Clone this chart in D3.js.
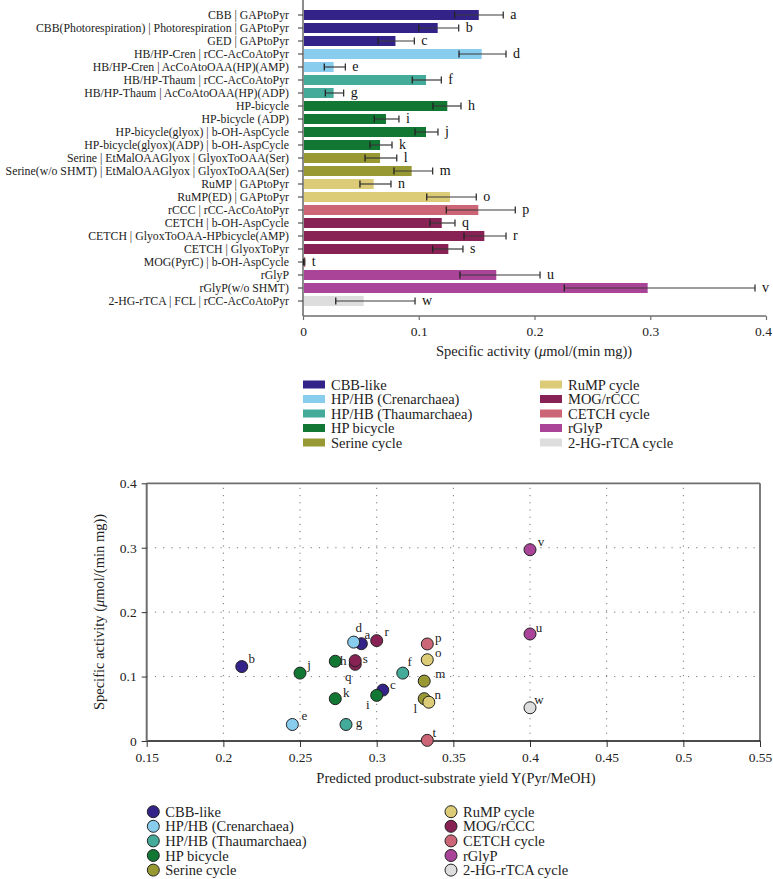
<!DOCTYPE html>
<html><head><meta charset="utf-8">
<script src="https://cdn.jsdelivr.net/npm/d3@7"></script>
<style>
html,body{margin:0;padding:0;background:#fff;}
svg{display:block;font-family:"Liberation Serif","DejaVu Serif",serif;}
</style></head>
<body><svg id="c" width="773" height="879"></svg>
<script>
const categories = [
  "CBB | GAPtoPyr",
  "CBB(Photorespiration) | Photorespiration | GAPtoPyr",
  "GED | GAPtoPyr",
  "HB/HP-Cren | rCC-AcCoAtoPyr",
  "HB/HP-Cren | AcCoAtoOAA(HP)(AMP)",
  "HB/HP-Thaum | rCC-AcCoAtoPyr",
  "HB/HP-Thaum | AcCoAtoOAA(HP)(ADP)",
  "HP-bicycle",
  "HP-bicycle (ADP)",
  "HP-bicycle(glyox) | b-OH-AspCycle",
  "HP-bicycle(glyox)(ADP) | b-OH-AspCycle",
  "Serine | EtMalOAAGlyox | GlyoxToOAA(Ser)",
  "Serine(w/o SHMT) | EtMalOAAGlyox | GlyoxToOAA(Ser)",
  "RuMP | GAPtoPyr",
  "RuMP(ED) | GAPtoPyr",
  "rCCC | rCC-AcCoAtoPyr",
  "CETCH | b-OH-AspCycle",
  "CETCH | GlyoxToOAA-HPbicycle(AMP)",
  "CETCH | GlyoxToPyr",
  "MOG(PyrC) | b-OH-AspCycle",
  "rGlyP",
  "rGlyP(w/o SHMT)",
  "2-HG-rTCA | FCL | rCC-AcCoAtoPyr"
];
const letters = ["a","b","c","d","e","f","g","h","i","j","k","l","m","n","o","p","q","r","s","t","u","v","w"];
const activity = [0.151,0.1155,0.079,0.1535,0.0256,0.1054,0.0256,0.1238,0.0708,0.1054,0.0657,0.0657,0.093,0.0602,0.1261,0.1506,0.119,0.1558,0.1247,0.001,0.1661,0.2969,0.0516];
const errLow  = [0.131,0.100,0.065,0.1348,0.0184,0.0944,0.0193,0.1123,0.0616,0.0968,0.0579,0.0536,0.0786,0.0492,0.1069,0.1238,0.1097,0.1391,0.112,0.0005,0.1356,0.2258,0.0283];
const errHigh = [0.173,0.1345,0.0962,0.1754,0.0366,0.1195,0.0351,0.1365,0.0829,0.1166,0.0769,0.081,0.112,0.076,0.1497,0.1834,0.1313,0.1754,0.1382,0.0015,0.2048,0.3905,0.0968];
const groupIndex = [0,0,0,1,1,2,2,3,3,3,3,4,4,5,5,7,6,6,6,7,8,8,9];
const yieldValues = [0.29,0.212,0.304,0.285,0.245,0.317,0.28,0.273,0.3,0.25,0.273,0.331,0.331,0.334,0.333,0.333,0.286,0.3,0.286,0.333,0.4,0.4,0.4];
const groups = ["CBB-like","HP/HB (Crenarchaea)","HP/HB (Thaumarchaea)","HP bicycle","Serine cycle","RuMP cycle","MOG/rCCC","CETCH cycle","rGlyP","2-HG-rTCA cycle"];
const groupColors = ["#332288","#88ccee","#44aa99","#117733","#999933","#ddcc77","#882255","#cc6677","#aa4499","#dddddd"];
const barTicks = [0,0.1,0.2,0.3,0.4];
const scatterXTicks = [0.15,0.2,0.25,0.3,0.35,0.4,0.45,0.5,0.55];
const scatterYTicks = [0,0.1,0.2,0.3,0.4];
// label placement offsets for scatter point letters (layout only)
const labelOffsets = {a:[6,-9],b:[10,-8],c:[10,-6],d:[5,-15],e:[12,-9],f:[7,-12],g:[13,-2],h:[8,-1],i:[-9,9],j:[9,-9],k:[11,-6],l:[-9,10],m:[16,-8],n:[9,-8],o:[11,-7],p:[11,-7],q:[-7,12],r:[10,-9],s:[10,-2],t:[7,-8],u:[9,-7],v:[11,-8],w:[9,-8]};

const svg = d3.select("#c");
const fmt = d => d===0 ? "0" : String(+d.toFixed(2));
const titleSize = 14.5, legendSize = 14.5;

// ---------- Bar chart ----------
const bx = d3.scaleLinear().domain([0,0.4]).range([303,766]);
const by = d3.scaleBand().domain(categories).range([8.5,307.5]).paddingInner(0.23).paddingOuter(0.115);
const axisGray = "#6e6e6e";
const gBar = svg.append("g");

const xAxisB = gBar.append("g").attr("transform","translate(0,316)")
  .call(d3.axisBottom(bx).tickValues(barTicks).tickFormat(fmt).tickSize(4).tickPadding(6));
xAxisB.select(".domain").attr("stroke",axisGray).attr("stroke-width",1.6).attr("d","M303,0H766");
xAxisB.selectAll(".tick line").attr("stroke",axisGray).attr("stroke-width",1.2);
xAxisB.selectAll(".tick text").attr("font-family","Liberation Serif").attr("font-size",13.5).attr("fill","#222")
  .attr("dx",d=>d===0.4?"-3":null);

const yAxisB = gBar.append("g").attr("transform","translate(303,0)")
  .call(d3.axisLeft(by).tickSize(5).tickPadding(9));
yAxisB.select(".domain").attr("stroke",axisGray).attr("stroke-width",1.6).attr("d","M0,0V316");
yAxisB.selectAll(".tick line").attr("stroke","#333").attr("stroke-width",1);
yAxisB.selectAll(".tick text").attr("font-family","Liberation Serif").attr("font-size",11.8).attr("fill","#222");

gBar.append("g").selectAll("rect").data(categories).join("rect")
  .attr("x",bx(0)+1).attr("y",d=>by(d))
  .attr("width",(d,i)=>Math.max(0,bx(activity[i])-bx(0)))
  .attr("height",by.bandwidth())
  .attr("fill",(d,i)=>groupColors[groupIndex[i]]);

const eb = gBar.append("g").selectAll("g").data(categories).join("g")
  .attr("transform",d=>`translate(0,${by(d)+by.bandwidth()/2})`);
eb.append("line").attr("x1",(d,i)=>bx(errLow[i])).attr("x2",(d,i)=>bx(errHigh[i]))
  .attr("stroke","#3a3a3a").attr("stroke-width",1.2);
eb.append("line").attr("x1",(d,i)=>bx(errLow[i])).attr("x2",(d,i)=>bx(errLow[i]))
  .attr("y1",-3.5).attr("y2",3.5).attr("stroke","#222").attr("stroke-width",1.3);
eb.append("line").attr("x1",(d,i)=>bx(errHigh[i])).attr("x2",(d,i)=>bx(errHigh[i]))
  .attr("y1",-3.5).attr("y2",3.5).attr("stroke","#333").attr("stroke-width",1.3);
eb.append("text").attr("x",(d,i)=>bx(errHigh[i])+7).attr("y",0).attr("dy","0.3em")
  .attr("font-size",14).attr("fill","#111").text((d,i)=>letters[i]);

gBar.append("text").attr("x",534).attr("y",356).attr("text-anchor","middle")
  .attr("font-size",titleSize).attr("fill","#222")
  .html('Specific activity (<tspan font-style="italic">μ</tspan>mol/(min mg))');

function legend(g, x0, x1, y0, step, kind){
  groups.forEach((name,i)=>{
    const col = i<5?0:1, row = i%5;
    const x = col===0?x0:x1, y = y0+row*step;
    if(kind==="rect"){
      g.append("rect").attr("x",x).attr("y",y-4).attr("width",22).attr("height",8).attr("fill",groupColors[i]);
      g.append("text").attr("x",x+28).attr("y",y).attr("dy","0.35em").attr("font-size",legendSize).attr("fill","#222").text(name);
    } else {
      g.append("circle").attr("cx",x).attr("cy",y).attr("r",6).attr("fill",groupColors[i]).attr("stroke","#222").attr("stroke-width",1);
      g.append("text").attr("x",x+12).attr("y",y).attr("dy","0.35em").attr("font-size",legendSize).attr("fill","#222").text(name);
    }
  });
}
legend(svg.append("g"),303,540,384.5,14.5,"rect");

// ---------- Scatter ----------
const sx = d3.scaleLinear().domain([0.15,0.55]).range([146.7,760]);
const sy = d3.scaleLinear().domain([0,0.4]).range([741,483.3]);
const gS = svg.append("g");

gS.append("g").selectAll("line").data(scatterYTicks.filter(v=>v>0&&v<0.4)).join("line")
  .attr("x1",sx(0.15)).attr("x2",sx(0.55)).attr("y1",d=>sy(d)).attr("y2",d=>sy(d))
  .attr("stroke","#777").attr("stroke-width",1).attr("stroke-dasharray","1.2,7");
gS.append("g").selectAll("line").data(scatterXTicks.filter(v=>v>0.15&&v<0.55)).join("line")
  .attr("x1",d=>sx(d)).attr("x2",d=>sx(d)).attr("y1",sy(0)).attr("y2",sy(0.4))
  .attr("stroke","#777").attr("stroke-width",1).attr("stroke-dasharray","1.2,6");

gS.append("line").attr("x1",sx(0.15)).attr("x2",sx(0.55)).attr("y1",sy(0.4)).attr("y2",sy(0.4)).attr("stroke",axisGray).attr("stroke-width",1.8);
gS.append("line").attr("x1",sx(0.55)).attr("x2",sx(0.55)).attr("y1",sy(0.4)).attr("y2",sy(0)).attr("stroke",axisGray).attr("stroke-width",1.8);

const xAxisS = gS.append("g").attr("transform",`translate(0,${sy(0)})`)
  .call(d3.axisBottom(sx).tickValues(scatterXTicks).tickFormat(fmt).tickSize(6).tickPadding(5));
xAxisS.select(".domain").attr("stroke","#111").attr("stroke-width",1.6).attr("d",`M${sx(0.15)},0H${sx(0.55)}`);
xAxisS.selectAll(".tick line").attr("stroke","#333");
xAxisS.selectAll(".tick text").attr("font-size",13.5).attr("fill","#222").attr("font-family","Liberation Serif");

const yAxisS = gS.append("g").attr("transform",`translate(${sx(0.15)},0)`)
  .call(d3.axisLeft(sy).tickValues(scatterYTicks).tickFormat(fmt).tickSize(5).tickPadding(5));
yAxisS.select(".domain").attr("stroke",axisGray).attr("stroke-width",2).attr("d",`M0,${sy(0)}V${sy(0.4)}`);
yAxisS.selectAll(".tick line").attr("stroke","#333");
yAxisS.selectAll(".tick text").attr("font-size",13.5).attr("fill","#222").attr("font-family","Liberation Serif");

const pts = gS.append("g").selectAll("g").data(letters).join("g")
  .attr("transform",(d,i)=>`translate(${sx(yieldValues[i])},${sy(activity[i])})`);
pts.append("circle").attr("r",6).attr("fill",(d,i)=>groupColors[groupIndex[i]]).attr("stroke","#222").attr("stroke-width",1);
pts.append("text").attr("x",d=>labelOffsets[d][0]).attr("y",d=>labelOffsets[d][1]).attr("dy","0.35em")
  .attr("text-anchor","middle").attr("font-size",13).attr("fill","#222").text(d=>d);

gS.append("text").attr("x",456).attr("y",783).attr("text-anchor","middle")
  .attr("font-size",titleSize).attr("fill","#222").text("Predicted product-substrate yield Y(Pyr/MeOH)");
gS.append("text").attr("transform","translate(104,612) rotate(-90)").attr("text-anchor","middle")
  .attr("font-size",titleSize).attr("fill","#222")
  .html('Specific activity (<tspan font-style="italic">μ</tspan>mol/(min mg))');

legend(svg.append("g"),153.3,451,811.7,14.6,"circle");
</script></body></html>
